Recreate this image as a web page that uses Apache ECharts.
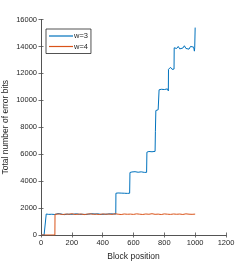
<!DOCTYPE html>
<html><head><meta charset="utf-8">
<script src="https://cdn.jsdelivr.net/npm/echarts@6/dist/echarts.min.js"></script>
<style>html,body{margin:0;padding:0;background:#fff}#c{width:249px;height:264px}</style>
</head><body><div id="c"></div>
<script>
var xTicks = [0,200,400,600,800,1000,1200];
var yTicks = [0,2000,4000,6000,8000,10000,12000,14000,16000];
var seriesNames = ['w=3','w=4'];
// w=3 series (block position, error bits)
var w3X = [0,10,20,30,33,34,40,50,60,70,80,90,100,110,120,130,140,150,160,170,180,190,200,210,220,230,240,250,260,270,280,290,300,310,320,330,340,350,360,370,380,390,400,410,420,430,440,450,460,470,480,485,
  486,490,500,510,520,530,540,550,560,570,575,
  577,580,590,600,610,620,630,640,650,660,670,680,685,
  687,690,700,710,720,730,740,741,742,744,745,750,760,765,
  766,770,780,790,800,810,820,826,827,830,840,850,860,863,
  864,870,880,890,900,910,920,930,940,950,960,970,980,990,995,997,1000];
var w3Y = [0,0,0,0,0,1560,1560,1530,1580,1540,1570,1520,1550,1590,1530,1560,1540,1510,1570,1550,1580,1530,1560,1545,1520,1575,1550,1530,1590,1540,1560,1525,1570,1550,1535,1580,1545,1560,1520,1570,1555,1530,1585,1540,1560,1550,1525,1575,1545,1560,1540,1550,
  3100,3080,3120,3090,3110,3070,3100,3130,3090,3110,3100,
  4640,4620,4680,4640,4700,4610,4660,4630,4690,4600,4650,4670,4650,
  6150,6130,6200,6120,6180,6150,6210,6150,7700,7700,9240,9180,9300,9250,
  10780,10750,10820,10700,10800,10720,10850,10700,12300,12250,12450,12300,12380,12320,
  13900,13950,13850,14000,13820,13900,13880,14050,13850,13920,13800,14000,13870,13950,13650,13900,15400];
// w=4 series
var w4X = [0,90,91,100,120,140,160,180,200,220,240,260,280,300,320,340,360,380,400,420,440,460,480,500,520,540,560,580,600,620,640,660,680,700,720,740,760,780,800,820,840,860,880,900,920,940,960,980,1000];
var w4Y = [0,0,1540,1530,1560,1520,1550,1540,1580,1525,1545,1560,1515,1550,1570,1535,1545,1520,1565,1540,1555,1530,1575,1545,1520,1560,1540,1550,1530,1570,1545,1525,1560,1540,1580,1535,1550,1520,1565,1545,1530,1560,1540,1555,1525,1570,1545,1535,1550];

function zip(a,b){var r=[];for(var i=0;i<a.length;i++)r.push([a[i],b[i]]);return r;}
var txt = '#262626', ax = '#4d4d4d';
var font = 'Liberation Sans, Arial, sans-serif';
var plain = function(v){return String(v);};
var chart = echarts.init(document.getElementById('c'), null, {renderer:'canvas'});
chart.setOption({
  animation:false,
  backgroundColor:'#fff',
  grid:{left:41,right:23,top:19.5,bottom:29,containLabel:false,outerBoundsMode:'none'},
  legend:{
    data:[{name:seriesNames[0],icon:'rect'},{name:seriesNames[1],icon:'rect'}],
    orient:'vertical', left:46, top:29,
    itemWidth:24, itemHeight:1.2, itemGap:2.5,
    borderColor:'#262626', borderWidth:0.8, padding:[3,3,3,3],
    backgroundColor:'#fff',
    textStyle:{fontSize:7.5,color:txt,fontFamily:font,padding:[0,0,0,-4]}
  },
  xAxis:[{
    type:'value', min:0, max:1200, interval:200,
    name:'Block position', nameLocation:'middle', nameGap:17, nameMoveOverlap:false,
    nameTextStyle:{fontSize:8.5,color:txt,fontFamily:font},
    axisLine:{show:true,lineStyle:{color:ax,width:0.8}},
    axisTick:{show:true,inside:true,length:2.5,lineStyle:{color:ax,width:0.8}},
    axisLabel:{fontSize:7.5,color:txt,fontFamily:font,margin:4,formatter:plain},
    splitLine:{show:false}
  },{
    type:'value', min:0, max:1200, interval:200, position:'top',
    axisLine:{show:true,lineStyle:{color:ax,width:0.8}},
    axisTick:{show:true,inside:true,length:2.5,lineStyle:{color:ax,width:0.8}},
    axisLabel:{show:false}, splitLine:{show:false}
  }],
  yAxis:[{
    type:'value', min:0, max:16000, interval:2000,
    name:'Total number of error bits', nameLocation:'middle', nameGap:31, nameMoveOverlap:false,
    nameTextStyle:{fontSize:8.5,color:txt,fontFamily:font},
    axisLine:{show:true,lineStyle:{color:ax,width:0.8}},
    axisTick:{show:true,inside:true,length:2.5,lineStyle:{color:ax,width:0.8}},
    axisLabel:{fontSize:7.5,color:txt,fontFamily:font,margin:4,formatter:plain},
    splitLine:{show:false}
  },{
    type:'value', min:0, max:16000, interval:2000, position:'right',
    axisLine:{show:true,lineStyle:{color:ax,width:0.8}},
    axisTick:{show:true,inside:true,length:2.5,lineStyle:{color:ax,width:0.8}},
    axisLabel:{show:false}, splitLine:{show:false}
  }],
  series:[
    {name:seriesNames[0],type:'line',data:zip(w3X,w3Y),symbol:'none',lineStyle:{color:'#0072BD',width:1},itemStyle:{color:'#0072BD'},xAxisIndex:0,yAxisIndex:0},
    {name:seriesNames[1],type:'line',data:zip(w4X,w4Y),symbol:'none',lineStyle:{color:'#D95319',width:1},itemStyle:{color:'#D95319'},xAxisIndex:0,yAxisIndex:0}
  ]
});
</script></body></html>
